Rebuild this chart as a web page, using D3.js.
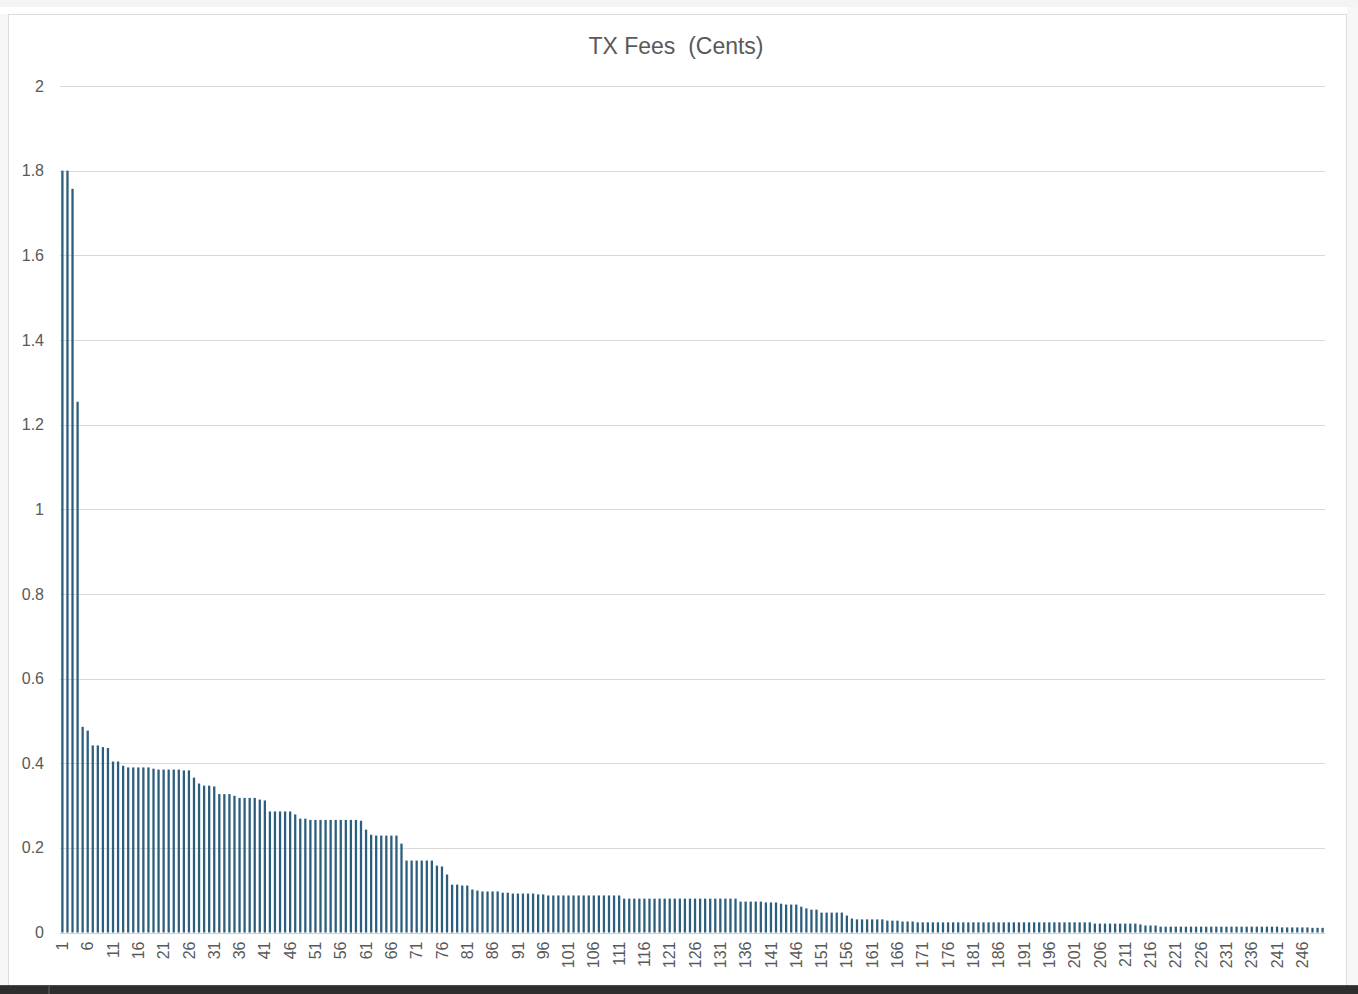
<!DOCTYPE html>
<html>
<head>
<meta charset="utf-8">
<script src="https://cdn.jsdelivr.net/npm/d3@7"></script>
<style>
  html, body { margin: 0; padding: 0; background: #ffffff; }
  svg { display: block; }
  text { font-family: "Liberation Sans", Arial, sans-serif; }
</style>
</head>
<body>
<svg id="chart" width="1358" height="994"></svg>
<script>
const chartTitle = "TX Fees  (Cents)";

const values = [
  1.80, 1.80, 1.757, 1.254, 0.486, 0.477, 0.442, 0.442, 0.438, 0.436,
  0.404, 0.404, 0.394, 0.390, 0.390, 0.390, 0.390, 0.390, 0.387, 0.385,
  0.385, 0.385, 0.385, 0.385, 0.383, 0.383, 0.366, 0.352, 0.347, 0.347,
  0.345, 0.327, 0.327, 0.327, 0.323, 0.318, 0.318, 0.318, 0.318, 0.314,
  0.312, 0.286, 0.286, 0.286, 0.286, 0.286, 0.279, 0.269, 0.269, 0.266,
  0.266, 0.266, 0.266, 0.266, 0.266, 0.266, 0.266, 0.266, 0.266, 0.264,
  0.243, 0.231, 0.229, 0.229, 0.229, 0.229, 0.229, 0.210, 0.170, 0.170,
  0.170, 0.170, 0.170, 0.170, 0.158, 0.156, 0.137, 0.113, 0.113, 0.111,
  0.111, 0.1015, 0.099, 0.097, 0.097, 0.097, 0.097, 0.094, 0.094, 0.092,
  0.092, 0.092, 0.092, 0.092, 0.090, 0.090, 0.0875, 0.0875, 0.0875, 0.0875,
  0.0875, 0.0875, 0.0875, 0.0875, 0.0875, 0.0875, 0.0875, 0.0875, 0.0875, 0.0875,
  0.0875, 0.080, 0.080, 0.080, 0.080, 0.080, 0.080, 0.080, 0.080, 0.080,
  0.080, 0.080, 0.080, 0.080, 0.080, 0.080, 0.080, 0.080, 0.080, 0.080,
  0.080, 0.080, 0.080, 0.080, 0.073, 0.073, 0.073, 0.073, 0.073, 0.071,
  0.071, 0.071, 0.068, 0.066, 0.066, 0.066, 0.061, 0.057, 0.054, 0.054,
  0.047, 0.047, 0.047, 0.047, 0.047, 0.040, 0.033, 0.031, 0.031, 0.031,
  0.031, 0.031, 0.031, 0.028, 0.028, 0.028, 0.026, 0.026, 0.026, 0.024,
  0.024, 0.024, 0.024, 0.024, 0.024, 0.024, 0.024, 0.024, 0.024, 0.024,
  0.024, 0.024, 0.024, 0.024, 0.024, 0.024, 0.024, 0.024, 0.024, 0.024,
  0.024, 0.024, 0.024, 0.024, 0.024, 0.024, 0.024, 0.024, 0.024, 0.024,
  0.024, 0.024, 0.024, 0.024, 0.021, 0.021, 0.021, 0.021, 0.021, 0.021,
  0.021, 0.021, 0.021, 0.019, 0.0165, 0.0165, 0.0165, 0.0138, 0.0138, 0.0138,
  0.0138, 0.0138, 0.0138, 0.0138, 0.0138, 0.0138, 0.0138, 0.0138, 0.0138, 0.0138,
  0.0138, 0.0138, 0.0138, 0.0138, 0.0138, 0.0138, 0.0138, 0.0138, 0.0138, 0.0138,
  0.0138, 0.012, 0.012, 0.012, 0.012, 0.012, 0.012, 0.011, 0.011, 0.011
];

const categories = values.map((_, i) => String(i + 1));
const xTickLabels = categories.filter((_, i) => i % 5 === 0);
const yTicks = [0, 0.2, 0.4, 0.6, 0.8, 1, 1.2, 1.4, 1.6, 1.8, 2];

const svg = d3.select("#chart");
const W = 1358, H = 994;

// page frame
svg.append("rect").attr("x", 0).attr("y", 0).attr("width", W).attr("height", 7).attr("fill", "#f4f4f4");
svg.append("rect").attr("x", 0).attr("y", 14).attr("width", 8).attr("height", 971).attr("fill", "#f7f7f7");
svg.append("rect").attr("x", 1347).attr("y", 7).attr("width", 11).attr("height", 978).attr("fill", "#f7f7f7");
svg.append("line").attr("x1", 8).attr("x2", 1347).attr("y1", 14.5).attr("y2", 14.5).attr("stroke", "#dcdcdc");
svg.append("line").attr("x1", 8.5).attr("x2", 8.5).attr("y1", 14).attr("y2", 985).attr("stroke", "#dcdcdc");
svg.append("line").attr("x1", 1346.5).attr("x2", 1346.5).attr("y1", 14).attr("y2", 985).attr("stroke", "#dcdcdc");
svg.append("rect").attr("x", 0).attr("y", 985).attr("width", W).attr("height", 9).attr("fill", "#2e2e2e");
svg.append("rect").attr("x", 0).attr("y", 985).attr("width", W).attr("height", 1).attr("fill", "#4a4a4a");
svg.append("rect").attr("x", 48).attr("y", 985).attr("width", 2).attr("height", 9).attr("fill", "#4a4a4a");

const margin = { left: 60, right: 1325, top: 86, bottom: 932.5 };

const x = d3.scaleBand().domain(categories).range([margin.left, margin.right]).paddingInner(0.55).paddingOuter(0.25);
const y = d3.scaleLinear().domain([0, 2]).range([margin.bottom, margin.top]);

// gridlines
svg.append("g").selectAll("line").data(yTicks).join("line")
  .attr("x1", margin.left).attr("x2", margin.right)
  .attr("y1", d => Math.round(y(d)) + 0.5).attr("y2", d => Math.round(y(d)) + 0.5)
  .attr("stroke", "#d9d9d9").attr("stroke-width", 1);

// y axis labels
const yAxis = d3.axisLeft(y).tickValues(yTicks).tickSize(0).tickPadding(0).tickFormat(d => String(+d.toFixed(1)));
const gy = svg.append("g").attr("transform", "translate(44,0)").call(yAxis);
gy.select(".domain").remove();
gy.selectAll("text").attr("fill", "#595959").style("font-size", "16px").style("font-family", "'Liberation Sans', Arial, sans-serif");

// bars
svg.append("g").selectAll("rect").data(values).join("rect")
  .attr("x", (d, i) => x(categories[i]))
  .attr("width", x.bandwidth())
  .attr("y", d => y(d))
  .attr("height", d => y(0) - y(d))
  .attr("fill", "#2c5f7e");

// baseline
svg.append("line").attr("x1", margin.left).attr("x2", margin.right)
  .attr("y1", Math.round(y(0)) + 0.5).attr("y2", Math.round(y(0)) + 0.5)
  .attr("stroke", "#d0d0d0");

// x axis labels
const xAxis = d3.axisBottom(x).tickValues(xTickLabels).tickSize(0).tickPadding(0);
const gx = svg.append("g").attr("transform", `translate(0,${y(0)})`).call(xAxis);
gx.select(".domain").remove();
gx.selectAll("text")
  .attr("fill", "#595959")
  .style("font-size", "16px")
  .style("font-family", "'Liberation Sans', Arial, sans-serif")
  .attr("text-anchor", "end")
  .attr("dy", "0.35em")
  .attr("transform", "translate(0,9) rotate(-90)")
  .attr("x", 0).attr("y", 0);

// title
svg.append("text").attr("x", 676).attr("y", 54).attr("text-anchor", "middle")
  .attr("fill", "#595959").style("font-size", "23px")
  .style("white-space", "pre").attr("xml:space", "preserve")
  .text(chartTitle);
</script>
</body>
</html>
